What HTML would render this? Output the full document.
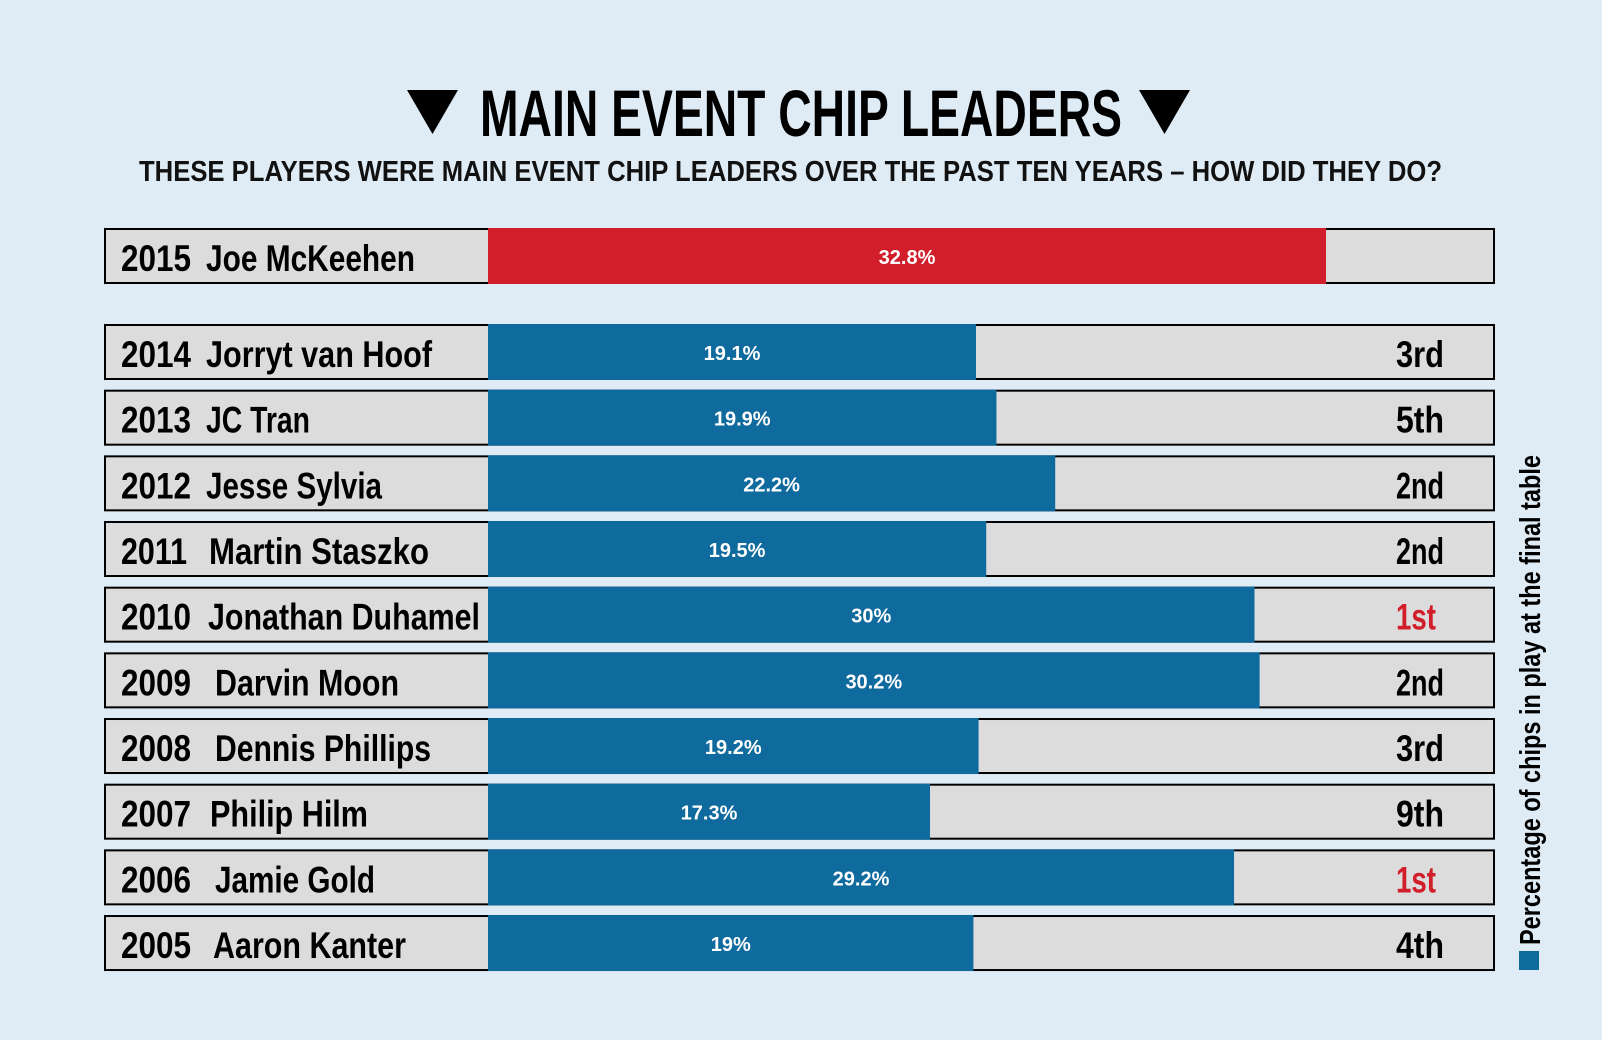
<!DOCTYPE html>
<html><head><meta charset="utf-8"><style>
html,body{margin:0;padding:0;background:#dfecf5;}
svg{display:block;}
text{font-family:"Liberation Sans",sans-serif;font-weight:bold;}
</style></head><body>
<svg width="1602" height="1040" viewBox="0 0 1602 1040" xmlns="http://www.w3.org/2000/svg">
<rect width="1602" height="1040" fill="#dfecf5"/>
<polygon points="407,90 458,90 432.5,134" fill="#000"/>
<polygon points="1139,90 1190,90 1164.5,134" fill="#000"/>
<text x="480" y="136" font-size="66" textLength="642" lengthAdjust="spacingAndGlyphs" fill="#000">MAIN EVENT CHIP LEADERS</text>
<text x="139" y="181" font-size="29" textLength="1303" lengthAdjust="spacingAndGlyphs" fill="#111">THESE PLAYERS WERE MAIN EVENT CHIP LEADERS OVER THE PAST TEN YEARS – HOW DID THEY DO?</text>

<!-- 2015 -->
<rect x="105" y="229" width="1389" height="54" fill="#dcdcdd" stroke="#000" stroke-width="2"/>
<rect x="488" y="228" width="838" height="56" fill="#d21e2a"/>
<text x="121" y="271" font-size="37" textLength="70" lengthAdjust="spacingAndGlyphs">2015</text>
<text x="206" y="271" font-size="37" textLength="209" lengthAdjust="spacingAndGlyphs">Joe McKeehen</text>
<text x="907" y="264" font-size="20" fill="#fff" text-anchor="middle">32.8%</text>

<g id="rows"></g>

<rect x="1519" y="951" width="20" height="19" fill="#0f6a9e"/>
<text transform="translate(1540,945) rotate(-90)" font-size="29" textLength="490" lengthAdjust="spacingAndGlyphs" fill="#000">Percentage of chips in play at the final table</text>
</svg>
<script>
var d=[["2014","Jorryt van Hoof",206,226,19.1,"3rd"],["2013","JC Tran",206,104,19.9,"5th"],["2012","Jesse Sylvia",206,176,22.2,"2nd"],["2011","Martin Staszko",209,220,19.5,"2nd"],["2010","Jonathan Duhamel",208,272,30,"1st"],["2009","Darvin Moon",215,184,30.2,"2nd"],["2008","Dennis Phillips",215,216,19.2,"3rd"],["2007","Philip Hilm",210,158,17.3,"9th"],["2006","Jamie Gold",215,160,29.2,"1st"],["2005","Aaron Kanter",213,193,19,"4th"]];
var s="";
d.forEach(function(r,i){var y=325+i*65.67;var w=r[4]*25.55;
s+='<rect x="105" y="'+y+'" width="1389" height="54" fill="#dcdcdd" stroke="#000" stroke-width="2"/>';
s+='<rect x="488" y="'+(y-1)+'" width="'+w+'" height="56" fill="#0f6a9e"/>';
s+='<text x="121" y="'+(y+42)+'" font-size="37" textLength="'+(r[0]=="2011"?66:70)+'" lengthAdjust="spacingAndGlyphs">'+r[0]+'</text>';
s+='<text x="'+r[2]+'" y="'+(y+42)+'" font-size="37" textLength="'+r[3]+'" lengthAdjust="spacingAndGlyphs">'+r[1]+'</text>';
s+='<text x="'+(488+w/2)+'" y="'+(y+35)+'" font-size="20" fill="#fff" text-anchor="middle">'+(r[4]+"%")+'</text>';
s+='<text x="1396" y="'+(y+42)+'" font-size="37" textLength="'+(r[5]=="1st"?40:48)+'" lengthAdjust="spacingAndGlyphs" fill="'+(r[5]=="1st"?"#d21e2a":"#000")+'">'+r[5]+'</text>';
});
document.getElementById("rows").innerHTML=s;
</script>
</body></html>
